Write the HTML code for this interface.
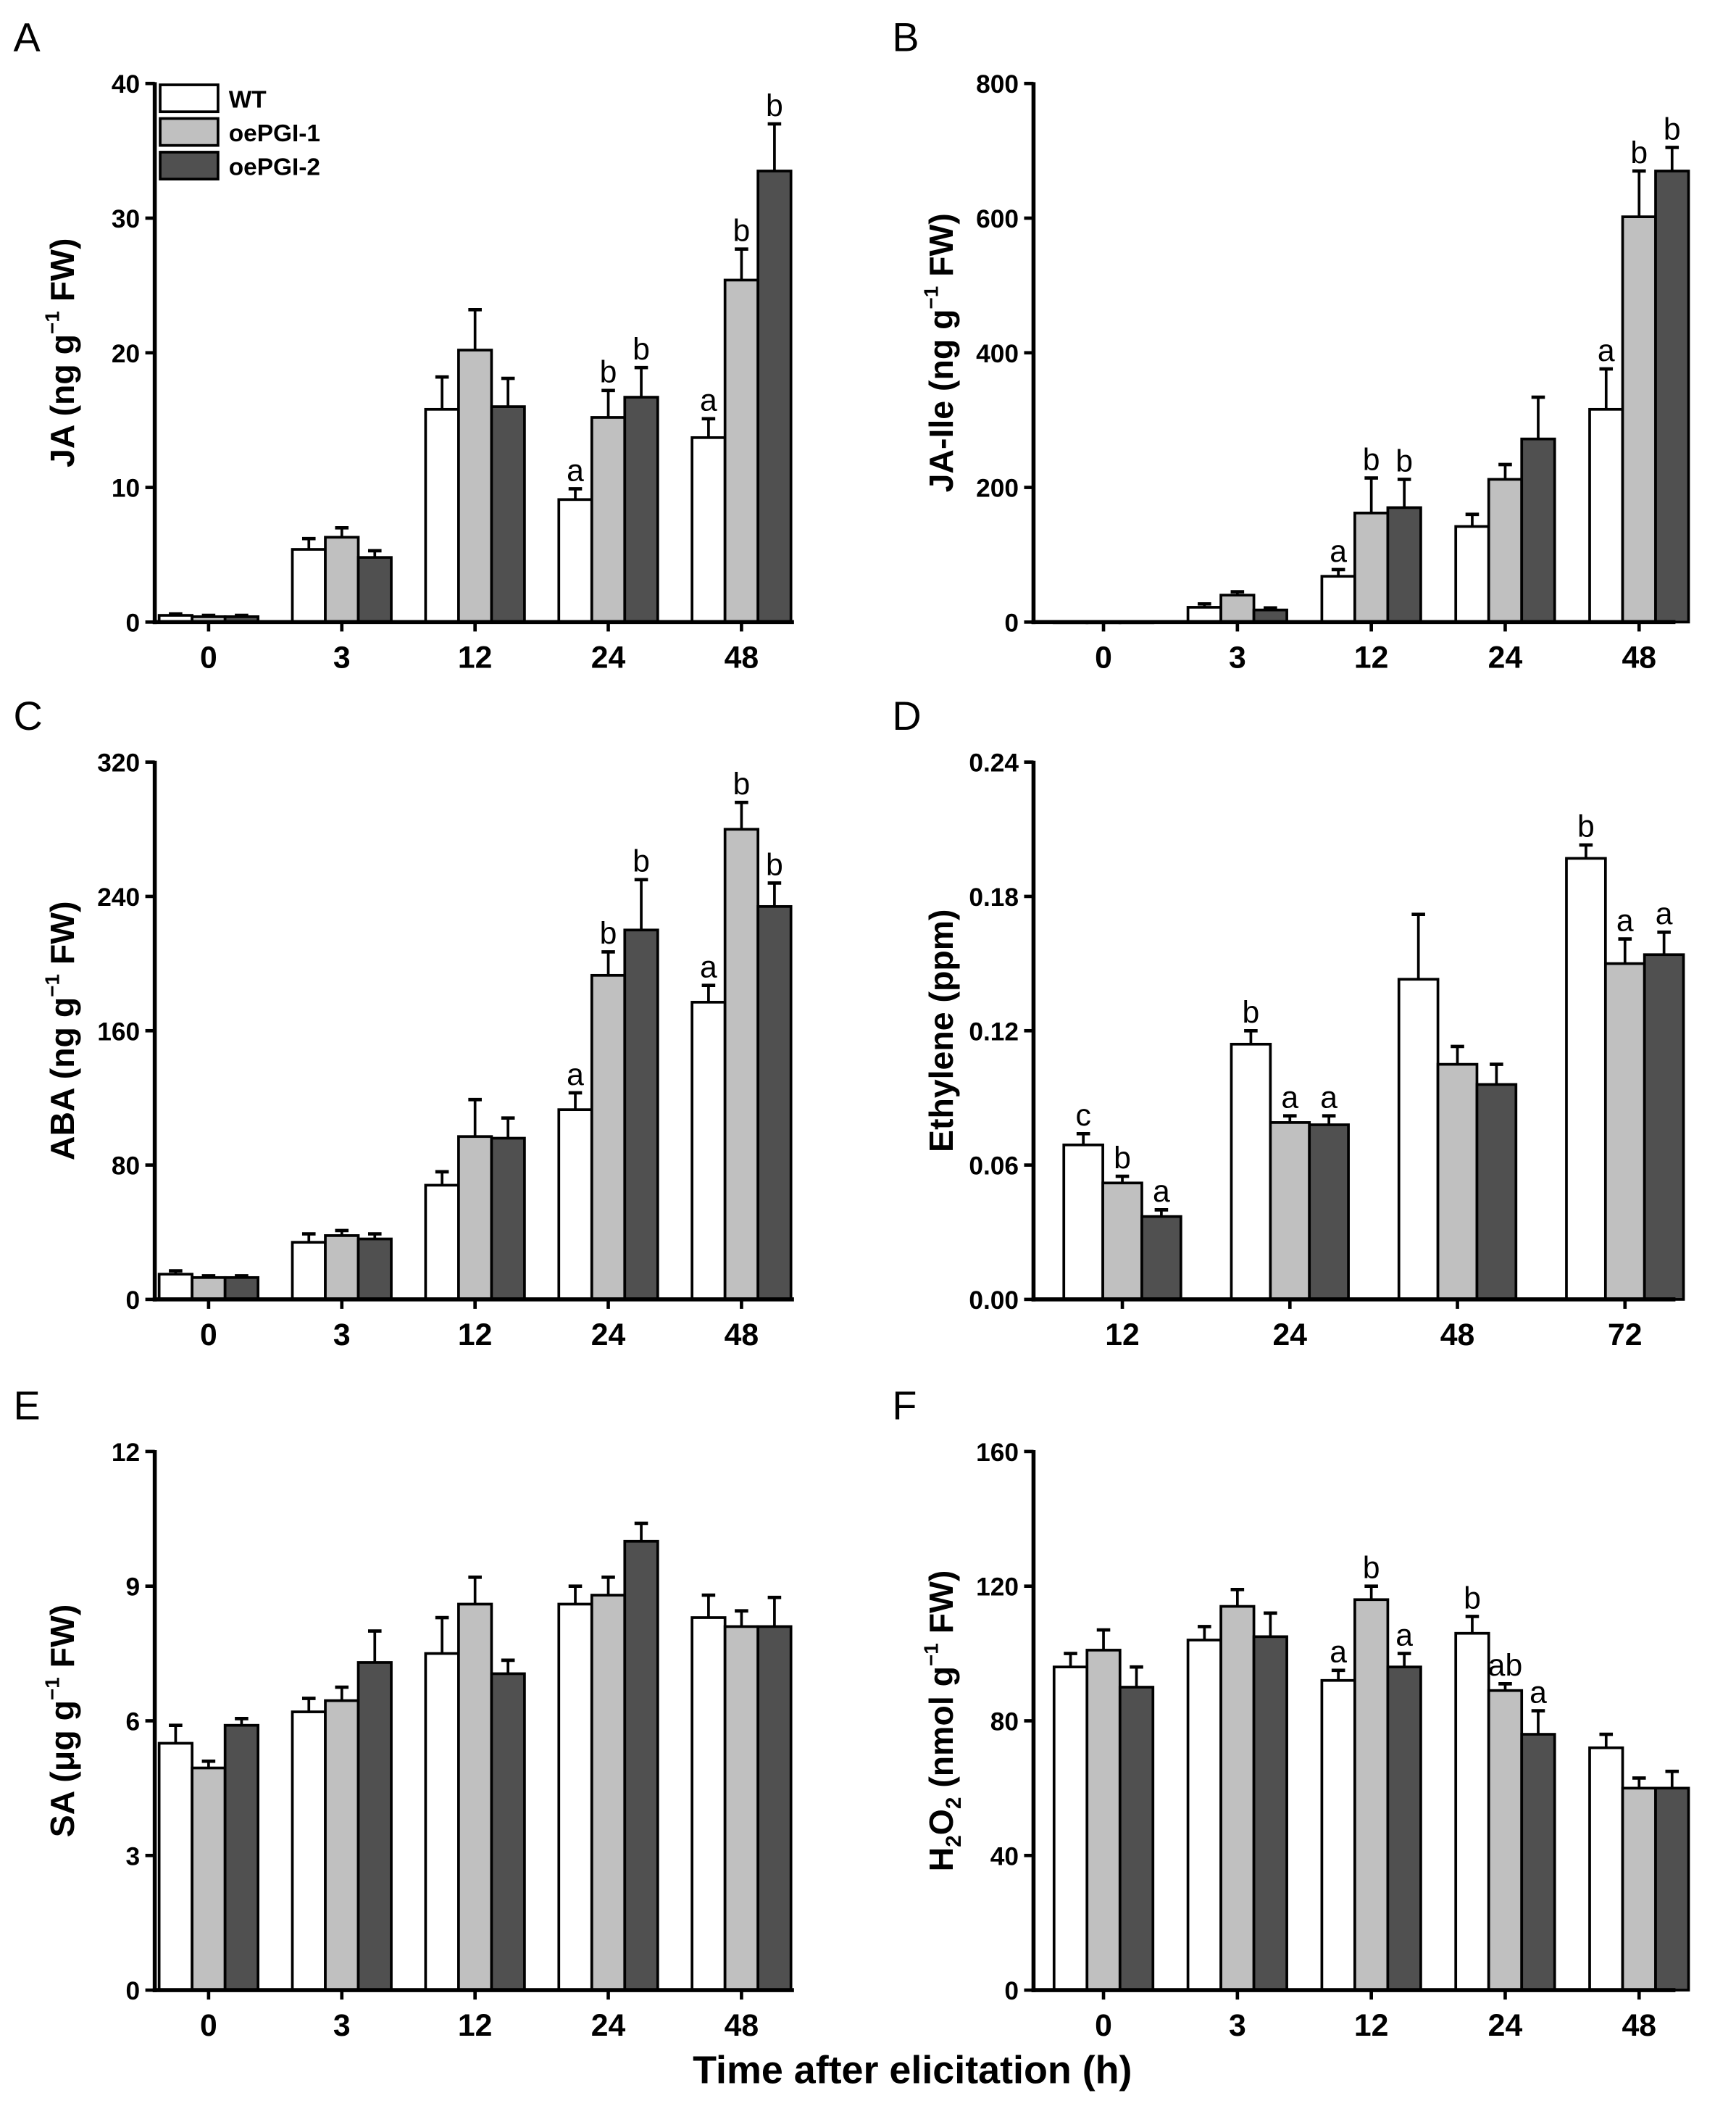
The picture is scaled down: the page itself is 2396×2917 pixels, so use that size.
<!DOCTYPE html>
<html><head><meta charset="utf-8"><style>
html,body{margin:0;padding:0;background:#fff}
svg{display:block}
text{font-family:"Liberation Sans",Arial,sans-serif}
</style></head><body>
<svg id="fig" width="2396" height="2917" viewBox="0 0 1290 1570" preserveAspectRatio="none" xmlns="http://www.w3.org/2000/svg"></svg>
<script>
const ns="http://www.w3.org/2000/svg";
const svg=document.getElementById('fig');
// ---- Data ----
const catsA=["0","3","12","24","48"];
const jaWT=[0.5,5.4,15.8,9.1,13.7];const jaWTe=[0.1,0.8,2.4,0.8,1.4];
const jaO1=[0.4,6.3,20.2,15.2,25.4];const jaO1e=[0.1,0.7,3.0,2.0,2.3];
const jaO2=[0.4,4.8,16.0,16.7,33.5];const jaO2e=[0.1,0.5,2.1,2.2,3.5];
const jaLet=[["","",""],["","",""],["","",""],["a","b","b"],["a","b","b"]];
const jaTicks=[0,10,20,30,40];
const ileWT=[0,22,68,142,316];const ileWTe=[0,5,10,18,60];
const ileO1=[0,40,162,212,602];const ileO1e=[0,5,52,22,68];
const ileO2=[0,18,170,272,670];const ileO2e=[0,3,42,62,35];
const ileLet=[["","",""],["","",""],["a","b","b"],["","",""],["a","b","b"]];
const ileTicks=[0,200,400,600,800];
const abaWT=[15,34,68,113,177];const abaWTe=[2,5,8,10,10];
const abaO1=[13,38,97,193,280];const abaO1e=[1,3,22,14,16];
const abaO2=[13,36,96,220,234];const abaO2e=[1,3,12,30,14];
const abaLet=[["","",""],["","",""],["","",""],["a","b","b"],["a","b","b"]];
const abaTicks=[0,80,160,240,320];
const catsD=["12","24","48","72"];
const ethWT=[0.069,0.114,0.143,0.197];const ethWTe=[0.005,0.006,0.029,0.006];
const ethO1=[0.052,0.079,0.105,0.150];const ethO1e=[0.003,0.003,0.008,0.011];
const ethO2=[0.037,0.078,0.096,0.154];const ethO2e=[0.003,0.004,0.009,0.010];
const ethLet=[["c","b","a"],["b","a","a"],["","",""],["b","a","a"]];
const ethTicks=[0,0.06,0.12,0.18,0.24];
const ethTickLabels=["0.00","0.06","0.12","0.18","0.24"];
const saWT=[5.5,6.2,7.5,8.6,8.3];const saWTe=[0.4,0.3,0.8,0.4,0.5];
const saO1=[4.95,6.45,8.6,8.8,8.1];const saO1e=[0.15,0.3,0.6,0.4,0.35];
const saO2=[5.9,7.3,7.05,10.0,8.1];const saO2e=[0.15,0.7,0.3,0.4,0.65];
const saLet=[["","",""],["","",""],["","",""],["","",""],["","",""]];
const saTicks=[0,3,6,9,12];
const h2WT=[96,104,92,106,72];const h2WTe=[4,4,3,5,4];
const h2O1=[101,114,116,89,60];const h2O1e=[6,5,4,2,3];
const h2O2=[90,105,96,76,60];const h2O2e=[6,7,4,7,5];
const h2Let=[["","",""],["","",""],["a","b","a"],["b","ab","a"],["","",""]];
const h2Ticks=[0,40,80,120,160];
const seriesNames=["WT","oePGI-1","oePGI-2"];
const fills=["#ffffff","#c0c0c0","#505050"];

function el(tag,attrs,parent){const e=document.createElementNS(ns,tag);for(const k in attrs)e.setAttribute(k,attrs[k]);(parent||svg).appendChild(e);return e;}

function panel(o){
  const g=el('g',{});
  
  
  const max=o.ticks[o.ticks.length-1];
  const y=v=>o.y1-(v/max)*(o.y1-o.y0);
  const x=i=>o.c0+i*o.step;
  const L=el('text',{x:o.ax-105,y:o.y0-24,'font-size':30},g);L.textContent=o.letter;
  
  const vals=[o.wt,o.o1,o.o2],errs=[o.wte,o.o1e,o.o2e];
  for(let s=0;s<3;s++){for(let i=0;i<o.cats.length;i++){
    const cx=x(i)+(s-1)*o.bw, left=cx-o.bw/2, top=y(vals[s][i]);
    const r=el('rect',{x:left,y:top,width:o.bw,height:Math.max(o.y1-top,0.5),fill:fills[s],stroke:'#000','stroke-width':2},g);
    
    
    const et=y(vals[s][i]+errs[s][i]);
    if(errs[s][i]>0){
      el('line',{x1:cx,x2:cx,y1:top,y2:et,stroke:'#000','stroke-width':2},g);
      el('line',{x1:cx-5,x2:cx+5,y1:et,y2:et,stroke:'#000','stroke-width':2.5},g);
    }
    const lt=o.lets[i][s];
    if(lt){const t=el('text',{x:cx,y:et-6,'font-size':23,'text-anchor':'middle'},g);t.textContent=lt;
      }
  }}
  el('line',{x1:o.ax,x2:o.ax,y1:o.y0-1,y2:o.y1+1.5,stroke:'#000','stroke-width':3},g);
  el('line',{x1:o.ax-1.5,x2:o.xr,y1:o.y1,y2:o.y1,stroke:'#000','stroke-width':3},g);
  o.ticks.forEach((t,k)=>{const yy=y(t);
    el('line',{x1:o.ax-7,x2:o.ax,y1:yy,y2:yy,stroke:'#000','stroke-width':2.5},g);
    const tx=el('text',{x:o.ax-11,y:yy+7,'font-size':19,'font-weight':'bold','text-anchor':'end'},g);
    tx.textContent=o.tickLabels?o.tickLabels[k]:String(t);
    });
  o.cats.forEach((c,i)=>{
    el('line',{x1:x(i),x2:x(i),y1:o.y1,y2:o.y1+7,stroke:'#000','stroke-width':2.5},g);
    const tx=el('text',{x:x(i),y:o.y1+34,'font-size':23,'font-weight':'bold','text-anchor':'middle'},g);tx.textContent=c;
    });
  const yt=el('text',{transform:`translate(${o.ax-60},${(o.y0+o.y1)/2}) rotate(-90)`,'font-size':25,'font-weight':'bold','text-anchor':'middle'},g);
  yt.innerHTML=o.title;
  
}
const sup='<tspan font-size="15" dy="-11">−1</tspan><tspan dy="11">';
const left={ax:115,xr:590,c0:155,step:99};
const right={ax:768,xr:1245,c0:820,step:99.5};
panel({letter:'A',...left,bw:24.5,y0:62,y1:462,cats:catsA,wt:jaWT,wte:jaWTe,o1:jaO1,o1e:jaO1e,o2:jaO2,o2e:jaO2e,lets:jaLet,ticks:jaTicks,title:'JA (ng g'+sup+' FW)</tspan>'});
panel({letter:'B',...right,bw:24.5,y0:62,y1:462,cats:catsA,wt:ileWT,wte:ileWTe,o1:ileO1,o1e:ileO1e,o2:ileO2,o2e:ileO2e,lets:ileLet,ticks:ileTicks,title:'JA-Ile (ng g'+sup+' FW)</tspan>'});
panel({letter:'C',...left,bw:24.5,y0:566,y1:965,cats:catsA,wt:abaWT,wte:abaWTe,o1:abaO1,o1e:abaO1e,o2:abaO2,o2e:abaO2e,lets:abaLet,ticks:abaTicks,title:'ABA (ng g'+sup+' FW)</tspan>'});
panel({letter:'D',ax:768,xr:1245,c0:834,step:124.5,bw:29,y0:566,y1:965,cats:catsD,wt:ethWT,wte:ethWTe,o1:ethO1,o1e:ethO1e,o2:ethO2,o2e:ethO2e,lets:ethLet,ticks:ethTicks,tickLabels:ethTickLabels,title:'Ethylene (ppm)'});
panel({letter:'E',...left,bw:24.5,y0:1078,y1:1478,cats:catsA,wt:saWT,wte:saWTe,o1:saO1,o1e:saO1e,o2:saO2,o2e:saO2e,lets:saLet,ticks:saTicks,title:'SA (μg g'+sup+' FW)</tspan>'});
panel({letter:'F',...right,bw:24.5,y0:1078,y1:1478,cats:catsA,wt:h2WT,wte:h2WTe,o1:h2O1,o1e:h2O1e,o2:h2O2,o2e:h2O2e,lets:h2Let,ticks:h2Ticks,title:'H<tspan font-size="16" dy="6">2</tspan><tspan dy="-6">O</tspan><tspan font-size="16" dy="6">2</tspan><tspan dy="-6"> (nmol g</tspan><tspan font-size="15" dy="-11">−1</tspan><tspan dy="11"> FW)</tspan>'});
const lg=el('g',{});


seriesNames.forEach((n,s)=>{
  el('rect',{x:119,y:63+s*25,width:43,height:20,fill:fills[s],stroke:'#000','stroke-width':2},lg);
  const t=el('text',{x:170,y:80+s*25,'font-size':18,'font-weight':'bold'},lg);t.textContent=n;
  
});
const xt=el('text',{x:678,y:1547,'font-size':29,'font-weight':'bold','text-anchor':'middle'});
xt.textContent='Time after elicitation (h)';


</script>
</body></html>
